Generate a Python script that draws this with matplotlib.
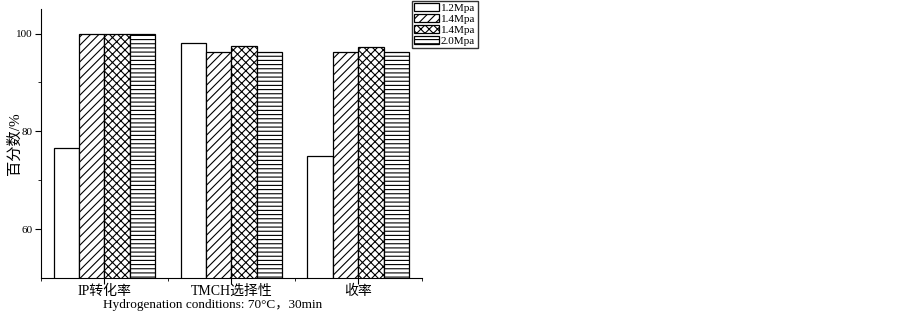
import matplotlib.pyplot as plt
import numpy as np

plt.rcParams['font.family'] = ['Liberation Serif', 'Noto Sans CJK SC']
plt.rcParams['hatch.linewidth'] = 0.8

categories = ['IP转化率', 'TMCH选择性', '收率']
series_names = ['1.2Mpa', '1.4Mpa', '1.4Mpa', '2.0Mpa']
p12 = [76.5, 98.1, 75.0]
p14a = [100.0, 96.2, 96.2]
p14b = [99.8, 97.5, 97.2]
p20 = [100.0, 96.3, 96.3]
hatches = ['', '////', 'xxxx', '----']

fig = plt.figure(figsize=(9.03, 3.13), dpi=100)
ax = fig.add_axes([0.0454, 0.112, 0.4215, 0.859])

x = np.arange(len(categories))
w = 0.2
for i, (vals, h, name) in enumerate(zip([p12, p14a, p14b, p20], hatches, series_names)):
    ax.bar(x + (i - 1.5) * w, vals, w, color='white', edgecolor='black',
           hatch=h, linewidth=0.9, label=name)

ax.set_xlim(-0.5, 2.5)
ax.set_ylim(50, 105)
ax.set_yticks([60, 80, 100])
ax.set_yticks([70, 90], minor=True)
ax.set_xticks(x)
ax.set_xticks([-0.5, 0.5, 1.5, 2.5], minor=True)
ax.set_xticklabels(categories, fontsize=10)
ax.tick_params(axis='y', labelsize=8, length=4, pad=2)
ax.tick_params(axis='x', length=4, pad=1)
ax.tick_params(which='minor', length=2)
ax.spines['top'].set_visible(False)
ax.spines['right'].set_visible(False)
ax.set_ylabel('百分数/%', fontsize=11)
ax.yaxis.set_label_coords(-0.05, 0.5)
ax.set_xlabel('Hydrogenation conditions: 70\u00b0C\uff0c30min', fontsize=9.5)
ax.xaxis.set_label_coords(0.45, -0.08)

ax.legend(loc='upper left', bbox_to_anchor=(0.975, 1.03), fontsize=8,
          frameon=True, fancybox=False, edgecolor='black', borderpad=0.2,
          labelspacing=0.1, handlelength=2.2, handletextpad=0.2,
          borderaxespad=0)

fig.savefig('out.png', dpi=100)
